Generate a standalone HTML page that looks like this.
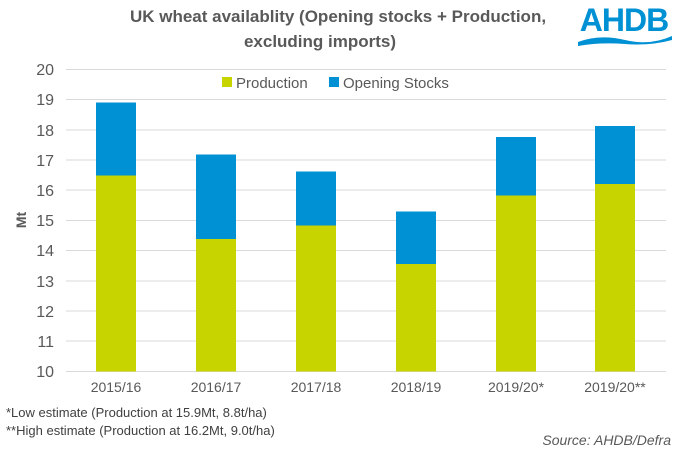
<!DOCTYPE html>
<html><head><style>
body{margin:0;background:#fff;}
svg{display:block;font-family:"Liberation Sans",Arial,sans-serif;}
</style></head><body>
<svg width="676" height="452" viewBox="0 0 676 452">
<text x="338" y="22" text-anchor="middle" font-size="17" font-weight="bold" fill="#595959">UK wheat availablity (Opening stocks + Production,</text>
<text x="320" y="47" text-anchor="middle" font-size="17" font-weight="bold" fill="#595959">excluding imports)</text>
<text x="624" y="31" text-anchor="middle" font-size="32" font-weight="bold" fill="#0090d4" letter-spacing="-1">AHDB</text>
<path d="M578 42 Q600 34 625 40 T672 36 L672 40 Q650 46 625 44 T578 46 Z" fill="#0090d4"/>
<g stroke="#d9d9d9" stroke-width="1">
<line x1="66" x2="666" y1="69.5" y2="69.5"/><line x1="66" x2="666" y1="99.5" y2="99.5"/>
<line x1="66" x2="666" y1="130" y2="130"/><line x1="66" x2="666" y1="160" y2="160"/>
<line x1="66" x2="666" y1="190" y2="190"/><line x1="66" x2="666" y1="220.5" y2="220.5"/>
<line x1="66" x2="666" y1="250.5" y2="250.5"/><line x1="66" x2="666" y1="281" y2="281"/>
<line x1="66" x2="666" y1="311" y2="311"/><line x1="66" x2="666" y1="341" y2="341"/>
<line x1="66" x2="666" y1="371.5" y2="371.5"/>
</g>
<g font-size="16" fill="#595959" text-anchor="end">
<text x="54" y="75">20</text><text x="54" y="105">19</text><text x="54" y="136">18</text>
<text x="54" y="166">17</text><text x="54" y="196">16</text><text x="54" y="226">15</text>
<text x="54" y="256">14</text><text x="54" y="287">13</text><text x="54" y="317">12</text>
<text x="54" y="347">11</text><text x="54" y="377">10</text>
</g>
<text transform="translate(26,220) rotate(-90)" text-anchor="middle" font-size="14" font-weight="bold" fill="#595959">Mt</text>
<g>
<rect x="96" y="102.5" width="40" height="73" fill="#0090d4"/><rect x="96" y="175.5" width="40" height="196" fill="#c8d400"/>
<rect x="196" y="154.5" width="40" height="84.5" fill="#0090d4"/><rect x="196" y="239" width="40" height="132.5" fill="#c8d400"/>
<rect x="296" y="171.5" width="40" height="54" fill="#0090d4"/><rect x="296" y="225.5" width="40" height="146" fill="#c8d400"/>
<rect x="396" y="211.5" width="40" height="52.5" fill="#0090d4"/><rect x="396" y="264" width="40" height="107.5" fill="#c8d400"/>
<rect x="496" y="137" width="40" height="58.5" fill="#0090d4"/><rect x="496" y="195.5" width="40" height="176" fill="#c8d400"/>
<rect x="595" y="126" width="40" height="58" fill="#0090d4"/><rect x="595" y="184" width="40" height="187.5" fill="#c8d400"/>
</g>
<g font-size="14" fill="#595959" text-anchor="middle">
<text x="116" y="392">2015/16</text><text x="216" y="392">2016/17</text><text x="316" y="392">2017/18</text>
<text x="416" y="392">2018/19</text><text x="516" y="392">2019/20*</text><text x="615" y="392">2019/20**</text>
</g>
<rect x="222" y="77" width="10" height="10" fill="#c8d400"/>
<text x="236" y="88" font-size="15" fill="#595959">Production</text>
<rect x="329" y="77" width="10" height="10" fill="#0090d4"/>
<text x="343" y="88" font-size="15" fill="#595959">Opening Stocks</text>
<text x="6" y="417" font-size="13" fill="#404040">*Low estimate (Production at 15.9Mt, 8.8t/ha)</text>
<text x="6" y="435" font-size="13" fill="#404040">**High estimate (Production at 16.2Mt, 9.0t/ha)</text>
<text x="671" y="445" text-anchor="end" font-size="14" font-style="italic" fill="#595959">Source: AHDB/Defra</text>
</svg>
</body></html>
